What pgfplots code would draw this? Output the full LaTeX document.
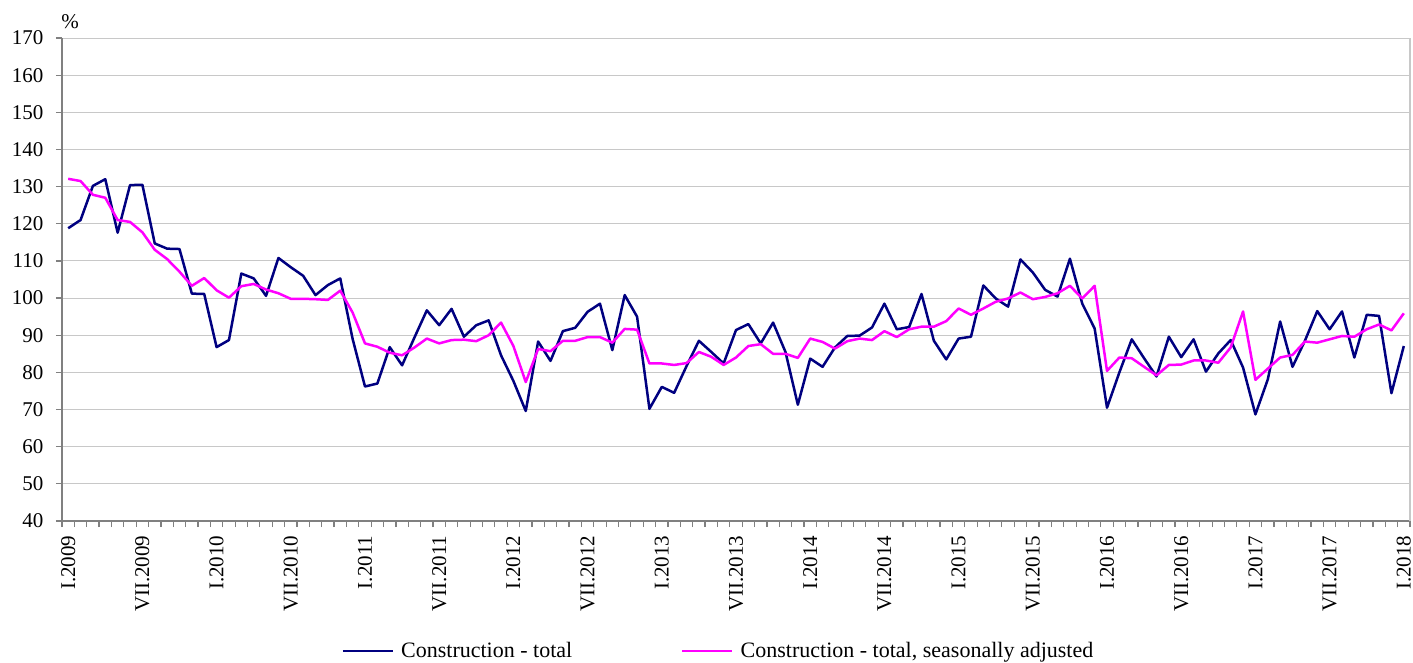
\documentclass[border=0pt]{standalone}
\usepackage{fontspec}
\setmainfont{Liberation Serif}
\usepackage{pgfplots}
\usepackage{pgfplotstable}
\pgfplotsset{compat=1.18}
\definecolor{navyc}{HTML}{000080}
\definecolor{magc}{HTML}{FF00FF}
\definecolor{gridc}{HTML}{C8C8C8}
\definecolor{axc}{HTML}{808080}
\pgfplotstableread{
x y
0 118.8
1 121.0
2 130.2
3 132.0
4 117.6
5 130.4
6 130.5
7 114.7
8 113.3
9 113.2
10 101.2
11 101.1
12 86.8
13 88.7
14 106.6
15 105.3
16 100.6
17 110.8
18 108.3
19 106.0
20 100.8
21 103.5
22 105.3
23 89.0
24 76.2
25 77.0
26 86.8
27 81.9
28 89.4
29 96.7
30 92.7
31 97.1
32 89.6
33 92.7
34 94.0
35 84.6
36 77.7
37 69.6
38 88.3
39 83.1
40 91.1
41 92.0
42 96.3
43 98.5
44 86.0
45 100.8
46 95.0
47 70.2
48 76.1
49 74.5
50 81.7
51 88.5
52 85.5
53 82.4
54 91.4
55 93.0
56 87.8
57 93.4
58 85.5
59 71.3
60 83.7
61 81.5
62 86.7
63 89.8
64 89.9
65 92.1
66 98.5
67 91.6
68 92.2
69 101.1
70 88.5
71 83.5
72 89.1
73 89.6
74 103.4
75 99.9
76 97.7
77 110.4
78 106.9
79 102.2
80 100.4
81 110.6
82 98.5
83 91.8
84 70.5
85 80.0
86 88.9
87 83.8
88 78.9
89 89.6
90 84.1
91 88.9
92 80.2
93 85.1
94 88.7
95 81.3
96 68.7
97 78.1
98 93.7
99 81.5
100 88.5
101 96.5
102 91.6
103 96.4
104 84.0
105 95.5
106 95.2
107 74.4
108 87.1
}\total
\pgfplotstableread{
x y
0 132.1
1 131.5
2 127.8
3 127.0
4 121.0
5 120.5
6 117.7
7 113.0
8 110.5
9 107.1
10 103.3
11 105.4
12 102.1
13 100.1
14 103.2
15 103.8
16 102.3
17 101.3
18 99.8
19 99.8
20 99.7
21 99.5
22 102.0
23 96.1
24 87.8
25 86.9
26 85.3
27 84.6
28 86.7
29 89.1
30 87.8
31 88.7
32 88.8
33 88.4
34 90.0
35 93.4
36 87.1
37 77.4
38 86.3
39 85.7
40 88.5
41 88.5
42 89.5
43 89.5
44 88.0
45 91.7
46 91.5
47 82.4
48 82.4
49 82.0
50 82.5
51 85.5
52 84.2
53 82.0
54 84.0
55 87.1
56 87.6
57 85.0
58 85.0
59 83.9
60 89.1
61 88.2
62 86.4
63 88.4
64 89.1
65 88.7
66 91.1
67 89.5
68 91.6
69 92.3
70 92.3
71 93.8
72 97.2
73 95.5
74 97.2
75 99.0
76 99.9
77 101.5
78 99.7
79 100.3
80 101.3
81 103.3
82 99.9
83 103.3
84 80.4
85 84.0
86 83.8
87 81.5
88 79.2
89 82.0
90 82.1
91 83.2
92 83.2
93 82.6
94 86.7
95 96.4
96 78.0
97 81.0
98 84.0
99 84.7
100 88.3
101 88.0
102 88.9
103 89.8
104 89.6
105 91.6
106 92.9
107 91.3
108 95.9
}\seasadj
\begin{document}
\begin{tikzpicture}
\path[use as bounding box] (-62pt,-141pt) rectangle (1351pt,521pt);
\begin{axis}[
  at={(0pt,0pt)}, anchor=south west,
  scale only axis, width=1348pt, height=483pt,
  xmin=-0.5, xmax=108.5, ymin=40, ymax=170,
  ytick={40,50,...,170},
  xtick={0,6,...,108},
  xticklabels={I.2009,VII.2009,I.2010,VII.2010,I.2011,VII.2011,I.2012,VII.2012,I.2013,VII.2013,I.2014,VII.2014,I.2015,VII.2015,I.2016,VII.2016,I.2017,VII.2017,I.2018},
  minor xtick={-0.5,0.5,...,108.5},
  axis x line*=bottom, axis y line*=left,
  axis line style={axc, line width=1.5pt, -},
  ymajorgrids, grid style={gridc, line width=1pt},
  tick align=outside,
  major tick length=6pt, minor tick length=6pt,
  tick style={axc, line width=1.2pt},
  major x tick style={draw=none},
  xticklabel shift=5pt,
  yticklabel shift=9pt,
  xticklabel style={rotate=90, anchor=east, font=\fontsize{21}{24}\selectfont},
  yticklabel style={font=\fontsize{21}{24}\selectfont},
  /pgf/number format/assume math mode=true,
  clip=false,
  legend columns=2,
  legend style={draw=none, at={(axis description cs:0.487,-0.269)}, anchor=center,
    font=\fontsize{22}{25}\selectfont,
    /tikz/every odd column/.append style={column sep=5pt},
    /tikz/every even column/.append style={column sep=107pt}},
  legend image code/.code={\draw[#1] (0pt,0pt) -- (50pt,0pt);},
]
\addplot[navyc, line width=2.5pt, line join=round] table[x=x,y=y] {\total};
\addlegendentry{Construction - total}
\addplot[magc, line width=2.5pt, line join=round] table[x=x,y=y] {\seasadj};
\addlegendentry{Construction - total, seasonally adjusted}
\draw[gridc, line width=1.5pt] (rel axis cs:1,0) -- (rel axis cs:1,1);
\node[font=\fontsize{21}{24}\selectfont] at (axis description cs:0.006,1.033) {\%};
\end{axis}
\end{tikzpicture}
\end{document}
